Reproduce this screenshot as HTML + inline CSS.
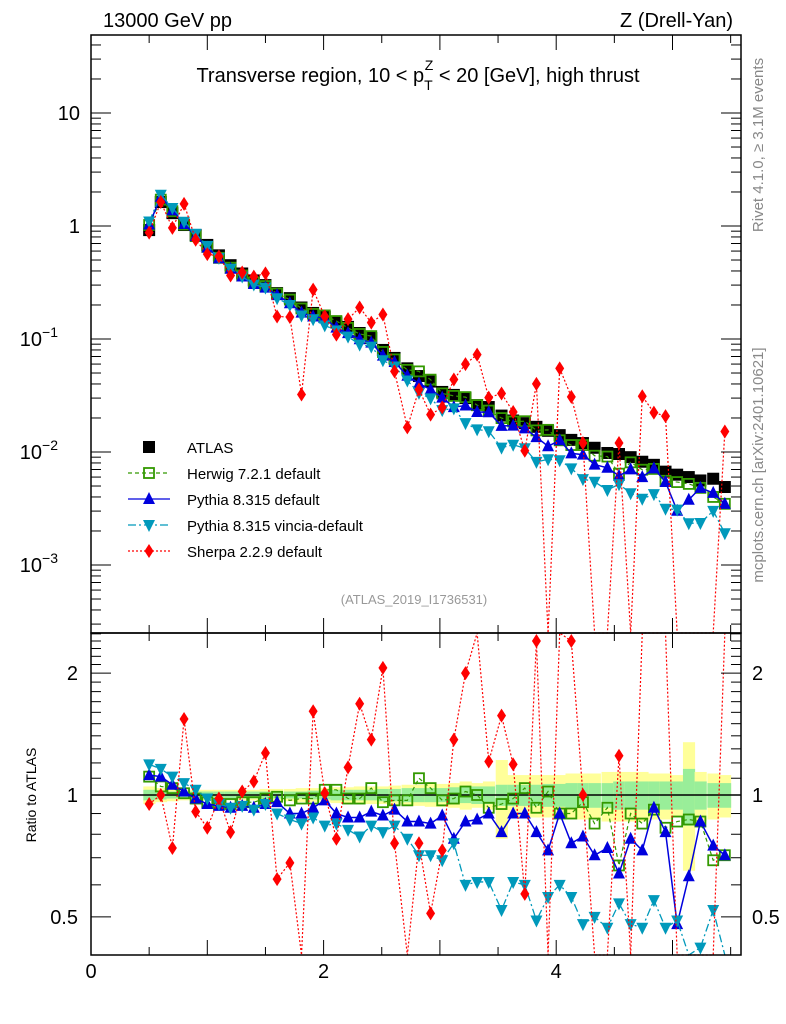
<!DOCTYPE html>
<html><head><meta charset="utf-8"><style>
body{margin:0;background:#fff;}
svg{display:block;font-family:"Liberation Sans",sans-serif;}
</style></head><body>
<svg id="c" width="786" height="1024" viewBox="0 0 786 1024">
<rect x="0" y="0" width="786" height="1024" fill="#fff"/>
<g id="bands"></g>
<g id="series"></g>
<g id="axes"></g>
<rect x="91" y="35" width="650" height="598" fill="none" stroke="#000" stroke-width="1.5"/>
<rect x="91" y="633" width="650" height="322" fill="none" stroke="#000" stroke-width="1.5"/>
<text x="103" y="27" font-size="20">13000 GeV pp</text>
<text x="733" y="27" font-size="20" text-anchor="end">Z (Drell-Yan)</text>
<text x="418" y="82" font-size="20" text-anchor="middle">Transverse region, 10 &lt; p<tspan font-size="14" dy="8">T</tspan><tspan font-size="14" dx="-8" dy="-20">Z</tspan><tspan dy="12"> &lt; 20 [GeV], high thrust</tspan></text>
<text x="414" y="604" font-size="13" fill="#999" text-anchor="middle">(ATLAS_2019_I1736531)</text>
<text transform="translate(763,145) rotate(-90)" font-size="15" fill="#888" text-anchor="middle">Rivet 4.1.0, ≥ 3.1M events</text>
<text transform="translate(763,465) rotate(-90)" font-size="15" fill="#888" text-anchor="middle">mcplots.cern.ch [arXiv:2401.10621]</text>
<text transform="translate(36,795) rotate(-90)" font-size="14" text-anchor="middle">Ratio to ATLAS</text>
<g id="legend"></g>
</svg>
<script>
const xs=[0.5,0.6,0.7,0.8,0.9,1.0,1.1,1.2,1.3,1.4,1.5,1.6,1.71,1.81,1.91,2.01,2.11,2.21,2.31,2.41,2.51,2.61,2.72,2.82,2.92,3.02,3.12,3.22,3.32,3.42,3.53,3.63,3.73,3.83,3.93,4.03,4.13,4.23,4.33,4.44,4.54,4.64,4.74,4.84,4.94,5.04,5.14,5.24,5.35,5.45];
const atlas=[0.92,1.63,1.30,1.02,0.83,0.68,0.55,0.45,0.38,0.33,0.30,0.255,0.23,0.19,0.17,0.157,0.14,0.128,0.113,0.102,0.08,0.068,0.055,0.047,0.042,0.034,0.032,0.030,0.026,0.025,0.021,0.019,0.018,0.0167,0.0154,0.0141,0.0128,0.012,0.0109,0.0098,0.0096,0.009,0.0082,0.0077,0.0067,0.0063,0.006,0.0056,0.0058,0.0049];
const herwigRatio=[1.11,1.05,1.04,1.01,0.98,0.96,0.95,0.95,0.96,0.96,0.98,0.99,0.97,0.98,0.98,1.03,1.03,0.98,0.98,1.04,0.96,0.97,0.97,1.10,1.04,0.97,0.98,1.02,1.0,0.93,0.95,0.98,1.04,0.93,1.02,0.90,0.90,0.96,0.85,0.93,0.67,0.90,0.85,0.92,0.83,0.86,0.87,0.86,0.69,0.71];
const pythiaRatio=[1.12,1.11,1.06,1.02,0.98,0.95,0.94,0.93,0.94,0.93,0.95,0.96,0.90,0.90,0.93,0.97,0.90,0.88,0.88,0.91,0.89,0.92,0.86,0.86,0.85,0.89,0.78,0.86,0.87,0.90,0.81,0.90,0.90,0.81,0.73,0.90,0.76,0.79,0.71,0.74,0.64,0.78,0.73,0.93,0.81,0.48,0.63,0.86,0.75,0.71];
const vinciaRatio=[1.19,1.16,1.11,1.07,1.03,0.98,0.95,0.93,0.94,0.92,0.95,0.90,0.87,0.85,0.88,0.84,0.85,0.82,0.79,0.84,0.81,0.84,0.78,0.71,0.71,0.69,0.76,0.60,0.61,0.61,0.52,0.61,0.60,0.49,0.56,0.60,0.56,0.48,0.50,0.47,0.54,0.48,0.47,0.55,0.47,0.49,0.39,0.42,0.52,0.39];
const sherpaRatio=[0.95,1.0,0.74,1.54,0.91,0.83,0.98,0.81,1.02,1.08,1.27,0.62,0.68,0.17,1.61,1.01,0.78,1.17,1.68,1.37,2.06,0.76,0.3,0.76,0.51,0.73,1.37,2.0,2.8,1.21,1.57,1.19,0.57,2.4,0,3.9,2.4,1.0,0,0,1.25,0,3.8,2.9,3.1,0,0,0,0,3.1];
const greenBand=[0.03,0.025,0.02,0.02,0.02,0.02,0.02,0.02,0.02,0.02,0.02,0.02,0.02,0.02,0.025,0.025,0.03,0.03,0.03,0.03,0.035,0.035,0.04,0.04,0.04,0.04,0.045,0.045,0.05,0.05,0.06,0.06,0.06,0.06,0.065,0.065,0.07,0.07,0.07,0.07,0.08,0.08,0.08,0.08,0.08,0.08,0.16,0.08,0.07,0.07];
const yellowBand=[0.05,0.04,0.035,0.03,0.03,0.03,0.03,0.03,0.03,0.03,0.035,0.035,0.035,0.04,0.04,0.04,0.045,0.045,0.05,0.05,0.05,0.055,0.06,0.06,0.065,0.065,0.07,0.08,0.07,0.08,0.22,0.12,0.12,0.12,0.12,0.12,0.13,0.13,0.13,0.14,0.14,0.14,0.14,0.13,0.13,0.12,0.35,0.14,0.13,0.12];
const yMainTicks=[{v:10,l:"10"},{v:1,l:"1"},{v:0.1,l:"10",e:"−1"},{v:0.01,l:"10",e:"−2"},{v:0.001,l:"10",e:"−3"}];
const ratioTicks=[0.5,1,2];
const xTicks=[0,2,4];

const NS="http://www.w3.org/2000/svg";
const X0=91,X1=741,MT=35,MB=633,RT=633,RB=955;
const xScale=v=>X0+v*116.3;
const yMain=v=>226-113*Math.log10(v);
const yRatio=v=>795-405*Math.log10(v);
function mk(tag,attrs,parent){const e=document.createElementNS(NS,tag);for(const k in attrs)e.setAttribute(k,attrs[k]);parent.appendChild(e);return e;}
const gB=document.getElementById('bands'),gS=document.getElementById('series'),gA=document.getElementById('axes'),gL=document.getElementById('legend');
const clampM=y=>Math.max(MT,Math.min(MB,y));
const clampR=y=>Math.max(RT,Math.min(RB,y));

// bands
const hw=(xs[1]-xs[0])*116.3/2;
xs.forEach((x,i)=>{
  const cx=xScale(x);
  const ry=mk('rect',{x:cx-hw,y:yRatio(1+yellowBand[i]),width:2*hw+0.5,height:yRatio(1-yellowBand[i])-yRatio(1+yellowBand[i]),fill:'#ffff99'},gB);
  
  
  const rg=mk('rect',{x:cx-hw,y:yRatio(1+greenBand[i]),width:2*hw+0.5,height:yRatio(1-greenBand[i])-yRatio(1+greenBand[i]),fill:'#99ee99'},gB);
  
  
});
const one=mk('line',{x1:X0,x2:X1,y1:yRatio(1),y2:yRatio(1),stroke:'#000','stroke-width':1.5},gB);



function marker(type,cx,cy,col,g){
  let e;
  if(type==='sq') e=mk('rect',{x:cx-6,y:cy-6,width:12,height:12,fill:'#000'},g);
  else if(type==='osq') e=mk('rect',{x:cx-5,y:cy-5,width:10,height:10,fill:'none',stroke:col,'stroke-width':1.8},g);
  else if(type==='tri') e=mk('polygon',{points:`${cx},${cy-7} ${cx-6},${cy+5} ${cx+6},${cy+5}`,fill:col},g);
  else if(type==='itri') e=mk('polygon',{points:`${cx},${cy+7} ${cx-6},${cy-5} ${cx+6},${cy-5}`,fill:col},g);
  else e=mk('polygon',{points:`${cx},${cy-7} ${cx-4.5},${cy} ${cx},${cy+7} ${cx+4.5},${cy}`,fill:col},g);
  return e;
}
const series=[
 {name:'herwig',r:herwigRatio,col:'#339900',m:'osq',dash:'4,3',w:1.2},
 {name:'pythia',r:pythiaRatio,col:'#0000dd',m:'tri',dash:'',w:1.5},
 {name:'vincia',r:vinciaRatio,col:'#0099bb',m:'itri',dash:'8,3,2,3',w:1.3},
 {name:'sherpa',r:sherpaRatio,col:'#ff0000',m:'dia',dash:'2,2',w:1.2}
];
// atlas main
const ga=mk('g',{},gS);


xs.forEach((x,i)=>{const m=marker('sq',xScale(x),yMain(atlas[i]),'#000',ga);
 
 });
series.forEach(s=>{
  const g=mk('g',{},gS);
  
  
  const pm=[],pr=[];
  xs.forEach((x,i)=>{
    const r=s.r[i];const cx=xScale(x);
    const ym=r>0?yMain(atlas[i]*r):MB+5;
    const yr=r>0?yRatio(r):RB+5;
    pm.push(cx+','+clampM(ym));pr.push(cx+','+clampR(yr));
  });
  const l1=mk('polyline',{points:pm.join(' '),fill:'none',stroke:s.col,'stroke-width':s.w,'stroke-dasharray':s.dash},g);
  
  
  const l2=mk('polyline',{points:pr.join(' '),fill:'none',stroke:s.col,'stroke-width':s.w,'stroke-dasharray':s.dash},g);
  
  
  xs.forEach((x,i)=>{
    const r=s.r[i];if(!(r>0))return;const cx=xScale(x);
    const ym=yMain(atlas[i]*r);
    if(ym>=MT&&ym<=MB){const m=marker(s.m,cx,ym,s.col,g);
      
      }
    const yr=yRatio(r);
    if(yr>=RT&&yr<=RB){const m=marker(s.m,cx,yr,s.col,g);
      
      }
  });
});

// axes ticks
function tick(x1,y1,x2,y2){mk('line',{x1,y1,x2,y2,stroke:'#000','stroke-width':1},gA);}
for(let d=-4;d<=1;d++){for(let k=1;k<10;k++){const v=k*Math.pow(10,d);const y=yMain(v);if(y<MT||y>MB)continue;const L=k===1?20:10;tick(X0,y,X0+L,y);tick(X1,y,X1-L,y);}}
yMainTicks.forEach(t=>{
  const tx=mk('text',{x:t.e?62:80,y:yMain(t.v)+7,'font-size':20,'text-anchor':t.e?'end':'end'},gA);
  tx.textContent=t.l;
  
  
  if(t.e){tx.setAttribute('x',58);const sp=mk('tspan',{'font-size':14,dy:-9},tx);sp.textContent=t.e;}
});
for(let v=0.5;v<=2.5001;v+=0.1){const y=yRatio(v);if(y<RT||y>RB)continue;const big=[0.5,1,2].some(a=>Math.abs(a-v)<1e-6);const L=big?20:10;tick(X0,y,X0+L,y);tick(X1,y,X1-L,y);}
ratioTicks.forEach(v=>{
  const a=mk('text',{x:78,y:yRatio(v)+7,'font-size':20,'text-anchor':'end'},gA);a.textContent=String(v);
  
  
  const b=mk('text',{x:752,y:yRatio(v)+7,'font-size':20},gA);b.textContent=String(v);
  
  
});
for(let v=0;v<=5.6;v+=0.5){const x=xScale(v);if(x>X1)break;const big=Math.abs(v-Math.round(v))<1e-6;const L=big?15:8;tick(x,RB,x,RB-L);tick(x,MB,x,MB-L);tick(x,MB,x,MB+L);tick(x,MT,x,MT+L);}
xTicks.forEach(v=>{const t=mk('text',{x:xScale(v),y:978,'font-size':20,'text-anchor':'middle'},gA);t.textContent=String(v);
 
 });

// legend
const leg=[['ATLAS','sq','#000',''],['Herwig 7.2.1 default','osq','#339900','4,3'],['Pythia 8.315 default','tri','#0000dd',''],['Pythia 8.315 vincia-default','itri','#0099bb','8,3,2,3'],['Sherpa 2.2.9 default','dia','#ff0000','2,2']];
leg.forEach((e,i)=>{
  const y=447+i*26;
  const g=mk('g',{},gL);
  
  
  if(i>0) mk('line',{x1:128,x2:170,y1:y,y2:y,stroke:e[2],'stroke-width':1.3,'stroke-dasharray':e[3]},g);
  marker(e[1],149,y,e[2],g);
  const t=mk('text',{x:187,y:y+6,'font-size':15},g);t.textContent=e[0];
});
</script>
</body></html>
